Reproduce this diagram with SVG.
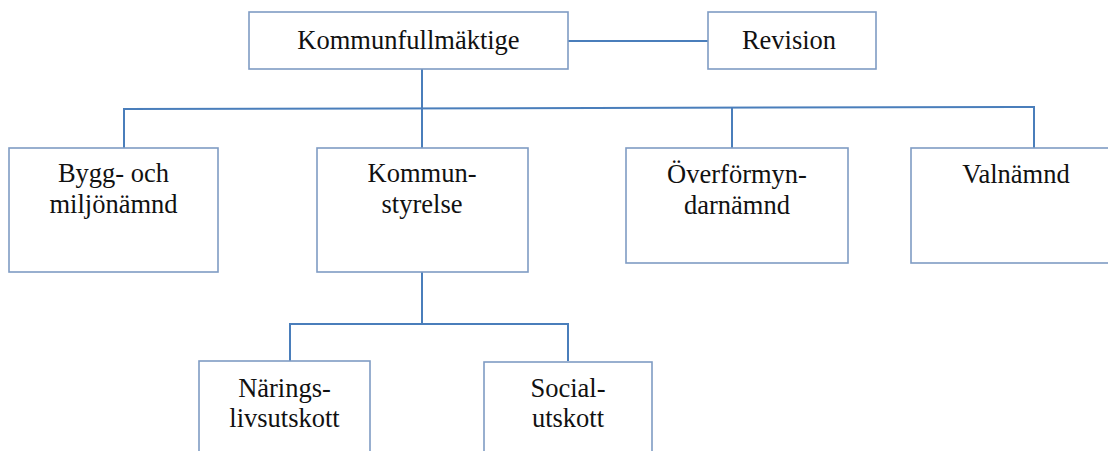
<svg xmlns="http://www.w3.org/2000/svg" width="1108" height="451" viewBox="0 0 1108 451">
<style>
.box{fill:#fff;stroke:#7f9cc4;stroke-width:1.6}
.con{fill:none;stroke:#4a7ebb;stroke-width:2}
text{font-family:"Liberation Serif","Times New Roman",serif;font-size:26.5px;fill:#111;text-anchor:middle}
</style>
<rect width="1108" height="451" fill="#fff"/>
<g id="connectors">
<path class="con" d="M568,41H708"/>
<path class="con" d="M422,69V108"/>
<path class="con" d="M124,148V109L1034,107V148"/>
<path class="con" d="M422,108V148"/>
<path class="con" d="M732,107V148"/>
<path class="con" d="M422,272V324"/>
<path class="con" d="M290,361V324H568V361"/>
</g>
<g id="kommunfullmaktige"><rect class="box" x="249" y="12" width="319" height="57"/><text x="408.5" y="49">Kommunfullmäktige</text></g>
<g id="revision"><rect class="box" x="708" y="12" width="168" height="57"/><text x="789" y="49">Revision</text></g>
<g id="bygg"><rect class="box" x="9" y="148" width="209" height="124"/><text x="113.5" y="182">Bygg- och</text><text x="113.5" y="213">miljönämnd</text></g>
<g id="kommunstyrelse"><rect class="box" x="317" y="148" width="211" height="124"/><text x="422" y="182">Kommun-</text><text x="422" y="213">styrelse</text></g>
<g id="overformyndarnamnd"><rect class="box" x="626" y="148" width="222" height="115"/><text x="737" y="183">Överförmyn-</text><text x="737" y="214">darnämnd</text></g>
<g id="valnamnd"><rect class="box" x="911" y="148" width="210" height="115"/><text x="1016" y="183">Valnämnd</text></g>
<g id="naringslivsutskott"><rect class="box" x="199" y="361" width="171" height="100"/><text x="284.5" y="397">Närings-</text><text x="284.5" y="427">livsutskott</text></g>
<g id="socialutskott"><rect class="box" x="484" y="362" width="168" height="100"/><text x="568" y="397">Social-</text><text x="568" y="427">utskott</text></g>
</svg>
